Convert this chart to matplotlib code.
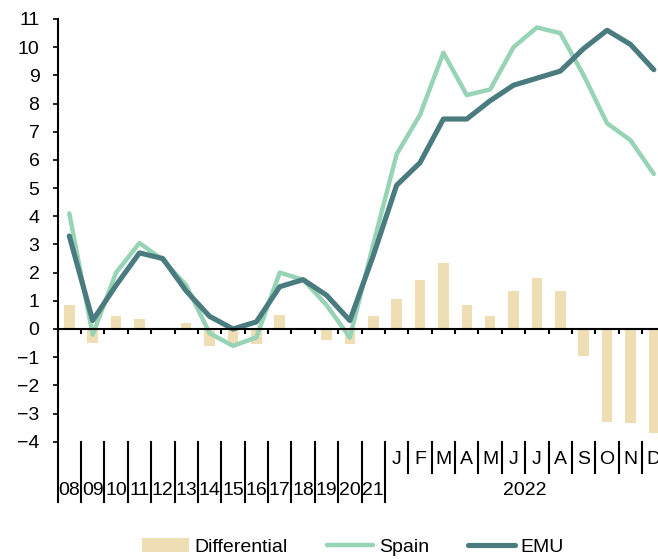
import matplotlib
matplotlib.use("Agg")
import matplotlib.pyplot as plt
import numpy as np

plt.rcParams['font.family'] = ['Liberation Sans', 'DejaVu Sans']

years = ["08", "09", "10", "11", "12", "13", "14", "15", "16", "17", "18", "19", "20", "21"]
months = ["J", "F", "M", "A", "M", "J", "J", "A", "S", "O", "N", "D"]
year_2022 = "2022"

spain = [4.1, -0.2, 2.0, 3.05, 2.45, 1.55, -0.15, -0.6, -0.3, 2.0, 1.75, 0.85, -0.3, 3.0,
         6.2, 7.6, 9.8, 8.3, 8.5, 10.0, 10.7, 10.5, 9.0, 7.3, 6.7, 5.5]
emu = [3.3, 0.3, 1.55, 2.7, 2.5, 1.35, 0.45, 0.0, 0.25, 1.5, 1.75, 1.2, 0.3, 2.6,
       5.1, 5.9, 7.45, 7.45, 8.1, 8.65, 8.9, 9.15, 9.95, 10.6, 10.1, 9.2]
differential = [0.85, -0.5, 0.45, 0.35, -0.05, 0.2, -0.6, -0.6, -0.55, 0.5, -0.05, -0.4, -0.55, 0.45,
                1.05, 1.75, 2.35, 0.85, 0.45, 1.35, 1.8, 1.35, -0.95, -3.3, -3.35, -3.7]

c_bar = "#EFDDB3"
c_spain = "#97D3B5"
c_emu = "#4A7B7E"

W, H = 658, 559
fig = plt.figure(figsize=(W / 100, H / 100), dpi=100)
left, right, top, bottom = 57.6, 665.5, 19.0, 441.7
ax = fig.add_axes([left / W, (H - bottom) / H, (right - left) / W, (bottom - top) / H])

n = len(spain)
x = np.arange(n)
hb = ax.bar(x, differential, width=0.45, color=c_bar, zorder=1, label="Differential")
hs, = ax.plot(x, spain, color=c_spain, lw=3.2, zorder=3, label="Spain", solid_capstyle="round")
he, = ax.plot(x, emu, color=c_emu, lw=3.7, zorder=4, label="EMU", solid_capstyle="round")

ax.set_xlim(-0.5, n - 0.5)
ax.set_ylim(-4, 11)
ax.set_yticks(range(-4, 12))
ax.tick_params(axis='y', direction='out', length=3.6, width=1.2, pad=9.5, labelsize=14)

for s in ["top", "right"]:
    ax.spines[s].set_visible(False)
ax.spines["bottom"].set_position(("data", 0))
ax.spines["bottom"].set_linewidth(1.5)
ax.spines["bottom"].set_zorder(5)
ax.spines["left"].set_visible(False)

bounds = np.arange(-0.5, n + 0.5, 1.0)
ax.set_xticks(bounds)
ax.set_xticklabels([])
ax.tick_params(axis='x', direction='out', length=3.3, width=1.5)

unit = (bottom - top) / 15.0
def ypx(p):
    return -4 - (p - bottom) / unit

y_long = ypx(502)
y_short = ypx(473)
ax.plot([-0.5, -0.5], [y_long, 11], color="black", lw=1.5, clip_on=False, zorder=6)
for i in range(len(years)):
    b = i + 0.5
    ax.plot([b, b], [-4, y_long], color="black", lw=1.5, clip_on=False)
for j in range(len(months)):
    b = len(years) + j + 0.5
    ax.plot([b, b], [-4, y_short], color="black", lw=1.5, clip_on=False)

for i, lab in enumerate(years):
    ax.text(i, ypx(490.5), lab, ha="center", va="center", fontsize=14, clip_on=False)
for j, lab in enumerate(months):
    ax.text(len(years) + j, ypx(459.3), lab, ha="center", va="center", fontsize=14, clip_on=False)
ax.text(len(years) + (len(months) - 1) / 2, ypx(490.5), year_2022, ha="center", va="center",
        fontsize=14, clip_on=False)

fig.legend([hb, hs, he], ["Differential", "Spain", "EMU"], loc="center",
           bbox_to_anchor=(353 / W, 12 / H), ncol=3, frameon=False,
           fontsize=14, handlelength=2.4, handletextpad=0.3, columnspacing=2.0)

fig.savefig("out.png", dpi=100)
